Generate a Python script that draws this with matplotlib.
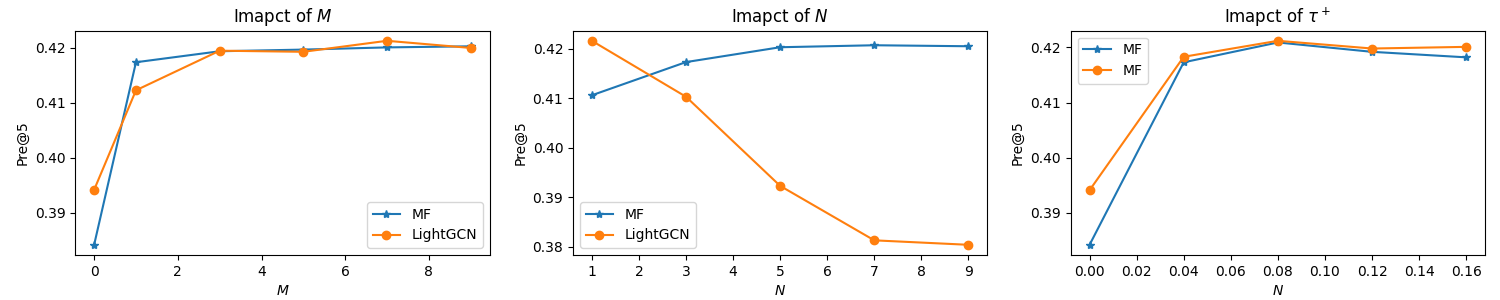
import matplotlib
matplotlib.use("Agg")
import matplotlib.pyplot as plt

m_vals = [0, 1, 3, 5, 7, 9]
m_mf = [0.3842, 0.4174, 0.4194, 0.4197, 0.4201, 0.4203]
m_lgcn = [0.3942, 0.4123, 0.4195, 0.4193, 0.4213, 0.4200]

n_vals = [1, 3, 5, 7, 9]
n_mf = [0.4106, 0.4173, 0.4203, 0.4207, 0.4205]
n_lgcn = [0.4216, 0.4103, 0.3923, 0.3813, 0.3804]

tau_vals = [0.00, 0.04, 0.08, 0.12, 0.16]
tau_mf = [0.3842, 0.4173, 0.4209, 0.4192, 0.4182]
tau_lgcn = [0.3941, 0.4183, 0.4212, 0.4198, 0.4201]

fig, axes = plt.subplots(1, 3, figsize=(15, 3), dpi=100)
fig.subplots_adjust(left=0.0502, right=0.99, top=0.898, bottom=0.15, wspace=0.2015)

ax = axes[0]
ax.plot(m_vals, m_mf, marker='*', label='MF')
ax.plot(m_vals, m_lgcn, marker='o', label='LightGCN')
ax.set_title('Imapct of $M$')
ax.set_xlabel('$M$')
ax.set_ylabel('Pre@5')
ax.legend(loc='lower right')

ax = axes[1]
ax.plot(n_vals, n_mf, marker='*', label='MF')
ax.plot(n_vals, n_lgcn, marker='o', label='LightGCN')
ax.set_title('Imapct of $N$')
ax.set_xlabel('$N$')
ax.set_ylabel('Pre@5')
ax.legend(loc='lower left')

ax = axes[2]
ax.plot(tau_vals, tau_mf, marker='*', label='MF')
ax.plot(tau_vals, tau_lgcn, marker='o', label='MF')
ax.set_title(r'Imapct of $\tau^+$')
ax.set_xlabel('$N$')
ax.set_ylabel('Pre@5')
ax.legend(loc='upper left')

fig.savefig('out.png', dpi=100)
